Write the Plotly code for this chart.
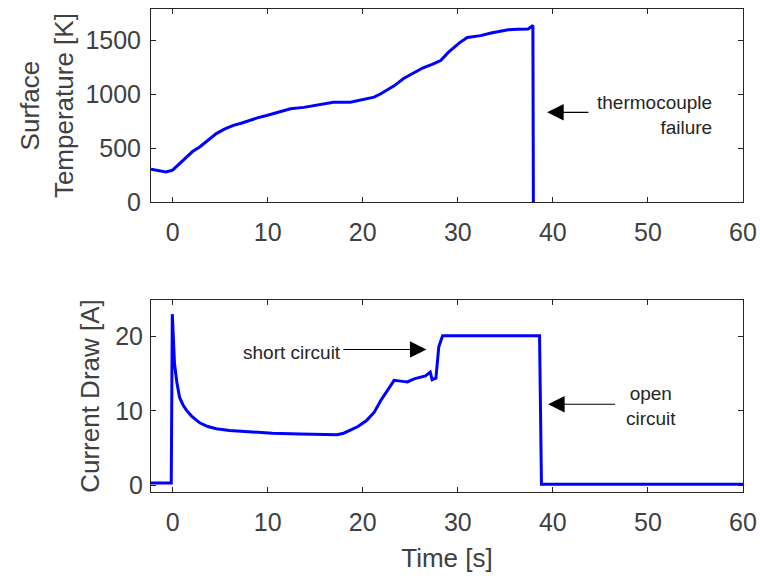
import plotly.graph_objects as go
from plotly.subplots import make_subplots

# ---- data ----
temp_time = [-2.27, -1.5, -0.7, 0.0, 0.7, 1.4, 2.1, 2.85, 3.7, 4.6, 5.5, 6.4, 7.3, 8.1,
             9.0, 9.9, 11.1, 12.4, 13.8, 15.2, 16.9, 18.7, 19.6, 20.5, 21.2, 21.9, 22.6,
             23.3, 24.3, 25.3, 26.3, 27.3, 28.2, 29.0, 29.6, 30.2, 31.0, 31.7, 32.4,
             33.5, 34.4, 35.3, 36.3, 37.4, 37.9, 37.95]
temperature = [305, 290, 280, 298, 355, 420, 470, 512, 570, 637, 680, 713, 735, 759,
               785, 805, 835, 867, 880, 904, 928, 928, 945, 960, 975, 1006, 1040,
               1080, 1148, 1195, 1245, 1280, 1315, 1390, 1440, 1481, 1528, 1535, 1546,
               1570, 1585, 1600, 1605, 1608, 1640, 0]

cur_time = [-2.27, -1.0, -0.3, -0.14, -0.03, 0.2, 0.45, 0.74, 1.1, 1.45, 2.0, 2.85, 3.7,
            4.6, 6.0, 8.1, 10.5, 13.4, 15.5, 17.3, 18.0, 18.7, 19.5, 20.4, 21.2, 21.9,
            22.6, 23.3, 24.0, 24.7, 25.4, 26.1, 26.6, 27.1, 27.3, 27.7, 28.0, 28.4, 30.0,
            33.0, 36.0, 38.6, 38.8, 40.0, 45.0, 50.0, 55.0, 60.0]
current = [0.3, 0.3, 0.3, 0.3, 23.0, 16.4, 13.8, 11.8, 10.8, 10.1, 9.3, 8.4, 7.9,
           7.6, 7.35, 7.15, 7.0, 6.9, 6.85, 6.8, 7.0, 7.4, 7.9, 8.7, 9.8, 11.4,
           12.75, 14.1, 14.0, 13.9, 14.3, 14.5, 14.7, 15.2, 14.2, 14.4, 18.6, 20.1, 20.1,
           20.1, 20.1, 20.1, 0.15, 0.15, 0.15, 0.15, 0.15, 0.15]

x_ticks = [0, 10, 20, 30, 40, 50, 60]
temp_ticks = [0, 500, 1000, 1500]
cur_ticks = [0, 10, 20]

FONT = "Liberation Sans, Arial, Helvetica, sans-serif"
GRAY = "#404040"
AX = "#262626"
BLUE = "#0000ff"

fig = make_subplots(rows=2, cols=1, vertical_spacing=0.2025)

fig.add_trace(go.Scatter(x=temp_time, y=temperature, mode="lines",
                         line=dict(color=BLUE, width=3), showlegend=False), row=1, col=1)
fig.add_trace(go.Scatter(x=cur_time, y=current, mode="lines",
                         line=dict(color=BLUE, width=3), showlegend=False), row=2, col=1)

axis_common = dict(showline=True, linecolor=AX, linewidth=1, mirror="ticks",
                   ticks="inside", ticklen=5, tickcolor=AX, showgrid=False,
                   zeroline=False, automargin=False,
                   tickfont=dict(family=FONT, size=25, color=GRAY))

fig.update_xaxes(range=[-2.27, 60], tickvals=x_ticks, ticklabelstandoff=8, **axis_common)
fig.update_xaxes(domain=[0, 1], row=1, col=1)
fig.update_xaxes(title=dict(text="Time [s]", font=dict(family=FONT, size=26, color=GRAY),
                            standoff=13), row=2, col=1)
fig.update_yaxes(range=[0, 1793], tickvals=temp_ticks, row=1, col=1, **axis_common,
                 ticklabelstandoff=4,
                 title=dict(text="Surface<br>Temperature [K]",
                            font=dict(family=FONT, size=26, color=GRAY), standoff=4))
fig.update_yaxes(range=[-0.9, 24.9], tickvals=cur_ticks, row=2, col=1, **axis_common,
                 ticklabelstandoff=2,
                 title=dict(text="Current Draw [A]",
                            font=dict(family=FONT, size=26, color=GRAY), standoff=8))
fig.update_yaxes(domain=[0.600, 1.0], row=1, col=1)
fig.update_yaxes(domain=[0.0, 0.3975], row=2, col=1)

ann_font = dict(family=FONT, size=19, color="#262626")
arrow = dict(showarrow=True, arrowhead=2, arrowsize=3.0, arrowwidth=1.1,
             arrowcolor="black", text="")

fig.add_annotation(x=39.4, y=834, ax=43.9, ay=834, xref="x", yref="y",
                   axref="x", ayref="y", **arrow)
fig.add_annotation(x=57.0, y=806, xref="x", yref="y", text="thermocouple<br>failure",
                   showarrow=False, xanchor="right", yanchor="middle", align="right",
                   font=ann_font)

fig.add_annotation(x=26.7, y=18.25, ax=17.8, ay=18.25, xref="x2", yref="y2",
                   axref="x2", ayref="y2", **arrow)
fig.add_annotation(x=17.9, y=17.9, xref="x2", yref="y2", text="short circuit",
                   showarrow=False, xanchor="right", yanchor="middle", font=ann_font)

fig.add_annotation(x=39.5, y=10.9, ax=46.7, ay=10.9, xref="x2", yref="y2",
                   axref="x2", ayref="y2", **arrow)
fig.add_annotation(x=50.3, y=10.7, xref="x2", yref="y2", text="open<br>circuit",
                   showarrow=False, xanchor="center", yanchor="middle", align="center",
                   font=ann_font)

fig.update_layout(width=760, height=576, margin=dict(l=151, r=17, t=9, b=84),
                  paper_bgcolor="white", plot_bgcolor="white",
                  font=dict(family=FONT, color=GRAY))

fig.write_html("out.html")
